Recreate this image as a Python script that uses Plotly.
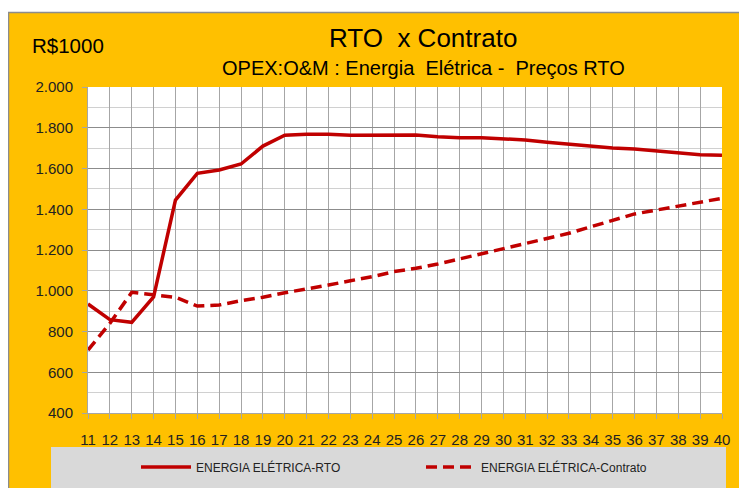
import plotly.graph_objects as go

years = list(range(11, 41))
rto = [935, 858, 845, 970, 1445, 1576, 1593, 1622, 1710, 1763, 1768, 1768, 1763, 1763,
       1764, 1764, 1756, 1751, 1751, 1746, 1740, 1729, 1719, 1710, 1701, 1696, 1686,
       1678, 1668, 1665]
contrato = [709, 840, 992, 979, 968, 925, 930, 951, 968, 990, 1007, 1028, 1049, 1069,
            1094, 1110, 1131, 1156, 1179, 1203, 1229, 1257, 1282, 1314, 1344, 1377, 1396,
            1416, 1437, 1454]
y_ticks = [400, 600, 800, 1000, 1200, 1400, 1600, 1800, 2000]

# page offset from default body margin
OFF = 8
W, H = 739, 480
L, R, T, B = 80, 25, 79, 75
pw, ph = W - L - R, H - T - B

def px(x):
    # x given in page pixels
    return (x - OFF - L) / pw

def py(y):
    # y given in page pixels
    return (H - B - (y - OFF)) / ph

RED = "#C00000"
FONT = "Liberation Sans"

fig = go.Figure()
fig.add_trace(go.Scatter(x=years, y=rto, mode="lines", name="ENERGIA ELÉTRICA-RTO",
                         line=dict(color=RED, width=3.5)))
fig.add_trace(go.Scatter(x=years, y=contrato, mode="lines", name="ENERGIA ELÉTRICA-Contrato",
                         line=dict(color=RED, width=3.5, dash="11px,6px")))

shapes = [
    dict(type="rect", xref="paper", yref="paper", x0=px(0), x1=px(760), y0=py(12), y1=py(0),
         fillcolor="white", line=dict(width=0), layer="below"),
    dict(type="line", xref="paper", yref="paper", x0=px(8), x1=px(760), y0=py(12.5), y1=py(12.5),
         line=dict(color="#8C8C8C", width=1.5)),
    dict(type="line", xref="paper", yref="paper", x0=px(8.5), x1=px(8.5), y0=py(12), y1=py(500),
         line=dict(color="#8C8C8C", width=1.5)),
    dict(type="rect", xref="paper", yref="paper", x0=px(51), x1=px(726), y0=py(500), y1=py(447),
         fillcolor="#D9D9D9", line=dict(width=0), layer="below"),
]

annotations = [
    dict(text="RTO  x Contrato", xref="paper", yref="paper", x=px(423), y=py(38),
         xanchor="center", yanchor="middle", showarrow=False,
         font=dict(family=FONT, size=26, color="black")),
    dict(text="OPEX:O&M : Energia  Elétrica -  Preços RTO", xref="paper", yref="paper",
         x=px(423), y=py(68), xanchor="center", yanchor="middle", showarrow=False,
         font=dict(family=FONT, size=20, color="black")),
    dict(text="R$1000", xref="paper", yref="paper", x=px(30), y=py(45),
         xanchor="left", yanchor="middle", showarrow=False,
         font=dict(family=FONT, size=20.5, color="black")),
]

fig.update_layout(
    width=W, height=H,
    margin=dict(l=L, r=R, t=T, b=B, autoexpand=False),
    paper_bgcolor="#FFC000",
    plot_bgcolor="white",
    separators=",.",
    shapes=shapes,
    annotations=annotations,
    showlegend=True,
    legend=dict(orientation="h", x=px(136), y=py(467), xanchor="left", yanchor="middle",
                bgcolor="rgba(0,0,0,0)", font=dict(family=FONT, size=12, color="#222"),
                entrywidth=220, entrywidthmode="pixels", itemwidth=50),
    font=dict(family=FONT, color="#222"),
)

fig.update_xaxes(range=[11, 40], tickmode="array", tickvals=years,
                 ticktext=[str(v) for v in years],
                 showgrid=True, gridcolor="#A6A6A6", gridwidth=1,
                 showline=True, linecolor="#A6A6A6", linewidth=1,
                 ticks="outside", ticklen=5, tickcolor="#A6A6A6", ticklabelstandoff=8,
                 tickfont=dict(family=FONT, size=15, color="#222"), zeroline=False)
fig.update_yaxes(range=[400, 2000], tickmode="array", tickvals=y_ticks,
                 ticktext=[f"{v:,}".replace(",", ".") for v in y_ticks],
                 showgrid=True, gridcolor="#8C8C8C", gridwidth=1,
                 minor=dict(dtick=100, showgrid=True, gridcolor="#D0D0D0", gridwidth=1),
                 showline=True, linecolor="#A6A6A6", linewidth=1,
                 ticks="outside", ticklen=5, tickcolor="#A6A6A6", ticklabelstandoff=6,
                 tickfont=dict(family=FONT, size=15, color="#222"), zeroline=False)

fig.write_html("out.html")
